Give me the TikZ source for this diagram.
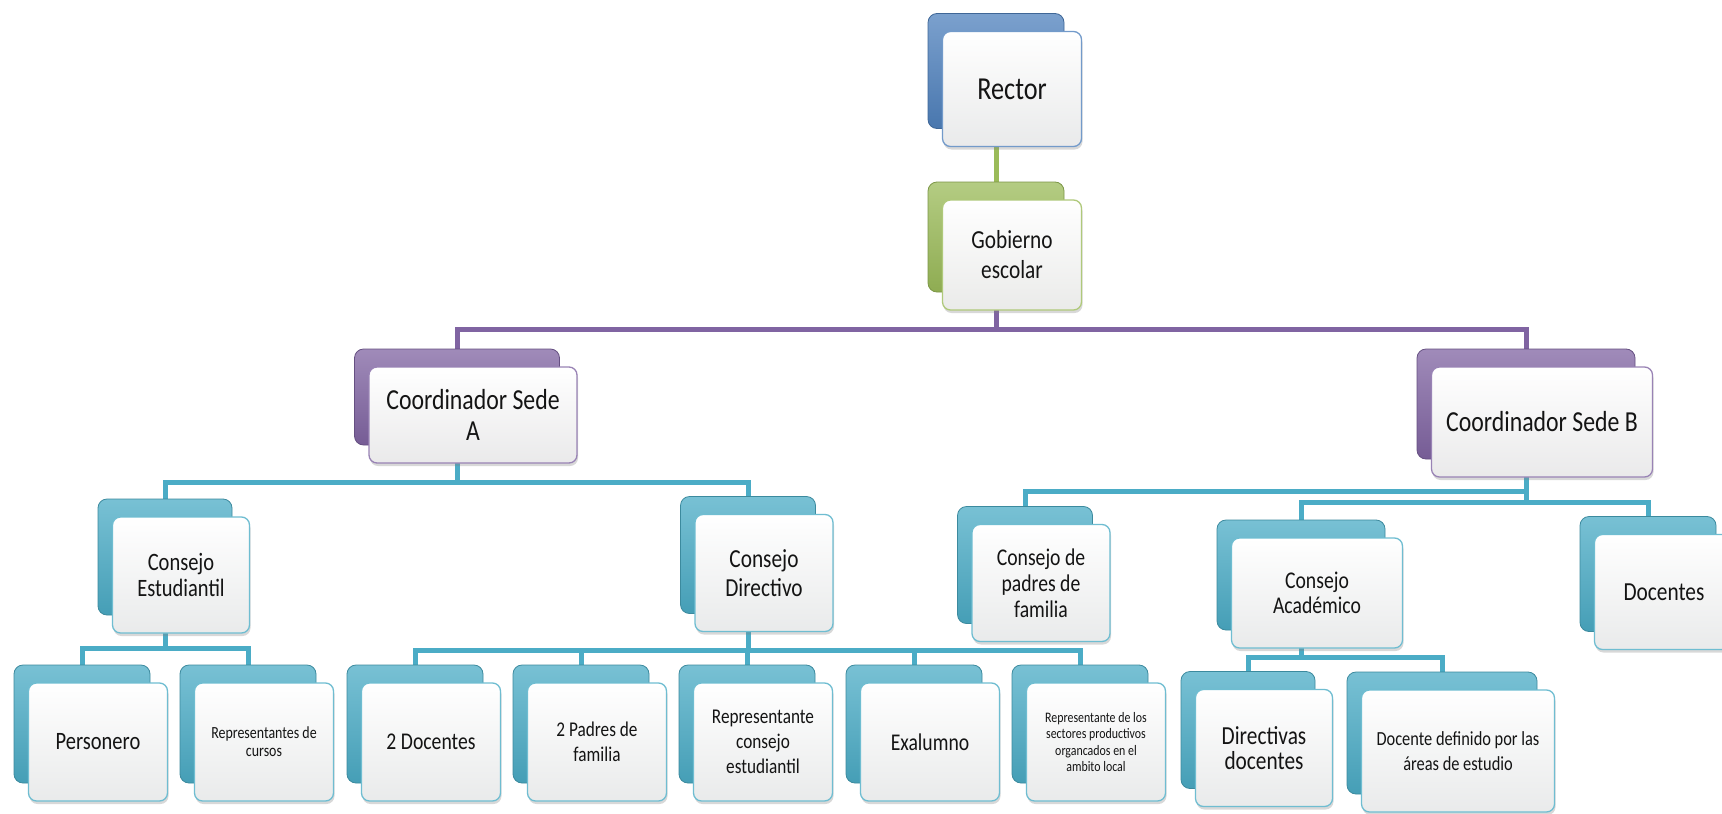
\documentclass[tikz,border=0pt]{standalone}
\usepackage{fontspec}
\setmainfont{Carlito}[FakeStretch=0.82]
\usetikzlibrary{backgrounds,shadows}
\definecolor{cblue}{HTML}{4F81BD}
\definecolor{cgreen}{HTML}{9BBB59}
\definecolor{cpurple}{HTML}{8064A2}
\definecolor{ccyan}{HTML}{4BACC6}
\definecolor{txt}{HTML}{141414}
\tikzset{
  backbox/.style={rounded corners=9pt, draw=#1!80!black, line width=0.8pt,
    top color=#1!75!white, bottom color=#1!92!black, inner sep=0pt},
  frontbox/.style={rounded corners=8pt, draw=#1!80!white, line width=1.3pt,
    top color=white, bottom color=#1!15!black!9!white, inner sep=0pt,
    align=center, text=txt,
    drop shadow={shadow xshift=1pt, shadow yshift=-3pt, opacity=0.3}},
  conn/.style={draw=#1, line width=5pt},
}
% name, cx, cy, w, h, colour, font size, line skip, text
\newcommand\orgbox[9]{%
  \node[backbox=#6, minimum width=#4pt-3pt, minimum height=#5pt] (#1-b) at (#2-16,#3-18) {};
  \node[frontbox=#6, minimum width=#4pt, minimum height=#5pt,
        font={\fontsize{#7}{#8}\selectfont}] (#1) at (#2,#3) {#9};}
\begin{document}
\begin{tikzpicture}[x=1pt,y=-1pt]
\useasboundingbox (0,0) rectangle (1722,814);

\orgbox{rector}{1012}{89}{139}{115}{cblue}{32}{36}{Rector}
\orgbox{gob}{1012}{255}{139}{110}{cgreen}{26}{30}{Gobierno\\escolar}
\orgbox{coordA}{473}{415}{208}{96}{cpurple}{29}{31}{Coordinador Sede\\A}
\orgbox{coordB}{1542}{422}{221}{110}{cpurple}{29}{30}{Coordinador Sede B}

\orgbox{cest}{181}{575}{137}{116}{ccyan}{25}{26}{Consejo\\Estudiantil}
\orgbox{cdir}{764}{573}{138}{117}{ccyan}{26}{29}{Consejo\\Directivo}
\orgbox{cpad}{1041}{583}{138}{117}{ccyan}{24}{26}{Consejo de\\padres de\\familia}
\orgbox{cacad}{1317}{593}{171}{110}{ccyan}{24}{25}{Consejo\\Académico}
\orgbox{docentes}{1664}{592}{139}{115}{ccyan}{26}{30}{Docentes}

\orgbox{pers}{98}{742}{139}{118}{ccyan}{25}{28}{Personero}
\orgbox{rcur}{264}{742}{139}{118}{ccyan}{17}{18}{Representantes de\\cursos}
\orgbox{doc2}{431}{742}{139}{118}{ccyan}{24}{28}{2 Docentes}
\orgbox{pad2}{597}{742}{139}{118}{ccyan}{21}{25}{2 Padres de\\familia}
\orgbox{rcons}{763}{742}{139}{118}{ccyan}{21}{25}{Representante\\consejo\\estudiantil}
\orgbox{exal}{930}{742}{139}{118}{ccyan}{24}{28}{Exalumno}
\orgbox{rsec}{1096}{742}{139}{118}{ccyan}{14.5}{16.5}{Representante de los\\sectores productivos\\organcados en el\\ambito local}
\orgbox{dird}{1264}{748}{137}{117}{ccyan}{26}{25}{Directivas\\docentes}
\orgbox{docdef}{1458}{751}{193}{122}{ccyan}{20}{25}{Docente definido por las\\áreas de estudio}

\coordinate (barG) at (0,329);
\coordinate (barA) at (0,482);
\coordinate (barE) at (0,648);
\coordinate (barD) at (0,650);
\coordinate (barB1) at (0,491);
\coordinate (barB2) at (0,502);
\coordinate (barC) at (0,657);

\begin{scope}[on background layer]
\fill[white] (0,0) rectangle (1722,814);
\draw[conn=cgreen] (rector-b.center) -- (gob-b.center);
\draw[conn=cpurple] (gob-b.center) -- (gob-b.center |- barG) -| (coordA-b.center);
\draw[conn=cpurple] (gob-b.center |- barG) -| (coordB-b.center);
\draw[conn=ccyan] (coordA-b.center) -- (coordA-b.center |- barA) -| (cest-b.center);
\draw[conn=ccyan] (coordA-b.center |- barA) -| (cdir-b.center);
\draw[conn=ccyan] (cest-b.center) -- (cest-b.center |- barE) -| (pers-b.center);
\draw[conn=ccyan] (cest-b.center |- barE) -| (rcur-b.center);
\draw[conn=ccyan] (cdir-b.center) -- (cdir-b.center |- barD) -| (doc2-b.center);
\draw[conn=ccyan] (cdir-b.center |- barD) -| (pad2-b.center);
\draw[conn=ccyan] (cdir-b.center |- barD) -| (rcons-b.center);
\draw[conn=ccyan] (cdir-b.center |- barD) -| (exal-b.center);
\draw[conn=ccyan] (cdir-b.center |- barD) -| (rsec-b.center);
\draw[conn=ccyan] (coordB-b.center) -- (coordB-b.center |- barB2);
\draw[conn=ccyan] (coordB-b.center |- barB1) -| (cpad-b.center);
\draw[conn=ccyan] (coordB-b.center |- barB2) -| (cacad-b.center);
\draw[conn=ccyan] (coordB-b.center |- barB2) -| (docentes-b.center);
\draw[conn=ccyan] (cacad-b.center) -- (cacad-b.center |- barC) -| (dird-b.center);
\draw[conn=ccyan] (cacad-b.center |- barC) -| (docdef-b.center);
\end{scope}
\end{tikzpicture}
\end{document}
